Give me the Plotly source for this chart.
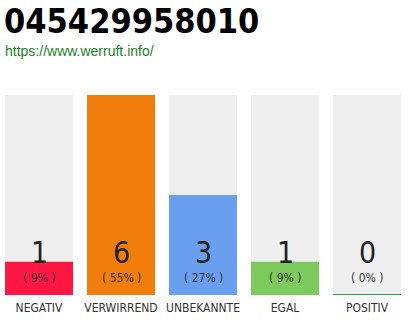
import plotly.graph_objects as go

categories = ["NEGATIV", "VERWIRREND", "UNBEKANNTE", "EGAL", "POSITIV"]
counts = [1, 6, 3, 1, 0]
percents = ["( 9% )", "( 55% )", "( 27% )", "( 9% )", "( 0% )"]
colors = ["#ff1744", "#f07d0c", "#6a9ff0", "#7dca5d", "#28a745"]
title_text = "045429958010"
url_text = "https://www.werruft.info/"

ymax = max(counts)
xs = list(range(len(categories)))
NARROW = "DejaVu Sans Condensed, Roboto, sans-serif"

fig = go.Figure()
fig.add_trace(go.Bar(x=xs, y=[ymax] * len(xs), marker=dict(color="#efefef", line=dict(width=0)),
                     hoverinfo="skip", showlegend=False))
fig.add_trace(go.Bar(x=xs, y=counts, marker=dict(color=colors, line=dict(width=0)),
                     showlegend=False))

half = (1 - 14 / 82) / 2
for i, (c, col) in enumerate(zip(counts, colors)):
    if c == 0:
        fig.add_shape(type="line", xref="x", yref="y", x0=i - half, x1=i + half, y0=0, y1=0,
                      line=dict(color=col, width=2))

for i, (c, p) in enumerate(zip(counts, percents)):
    fig.add_annotation(x=i, y=1.27, xref="x", yref="y", text=str(c), showarrow=False,
                       font=dict(family=NARROW, size=30, color="#222222", weight=300))
    fig.add_annotation(x=i, y=0.52, xref="x", yref="y", text=p, showarrow=False,
                       font=dict(family=NARROW, size=12, color="#333333"))

fig.add_annotation(x=0, y=1, xref="paper", yref="paper", xshift=2, yshift=96, text="<b>" + title_text + "</b>",
                   showarrow=False, xanchor="left", yanchor="top",
                   font=dict(family=NARROW, size=34, color="#000000"))
fig.add_annotation(x=0, y=1, xref="paper", yref="paper", xshift=3, yshift=54, text=url_text,
                   showarrow=False, xanchor="left", yanchor="top",
                   font=dict(family="Liberation Sans", size=14, color="#1a7f2a"))

fig.update_layout(
    width=410, height=320,
    margin=dict(l=0, r=0, t=95, b=25),
    paper_bgcolor="white", plot_bgcolor="white",
    barmode="overlay", bargap=14 / 82,
    xaxis=dict(range=[-0.5 + 2 / 82, 4.5 + 2 / 82], tickmode="array", tickvals=xs, ticktext=categories,
               showgrid=False, zeroline=False, showline=False, ticks="", tickangle=0, automargin=False,
               ticklabelstandoff=4,
               tickfont=dict(family=NARROW, size=12, color="#333333")),
    yaxis=dict(range=[0, ymax], visible=False, fixedrange=True),
)

fig.write_html("out.html")
